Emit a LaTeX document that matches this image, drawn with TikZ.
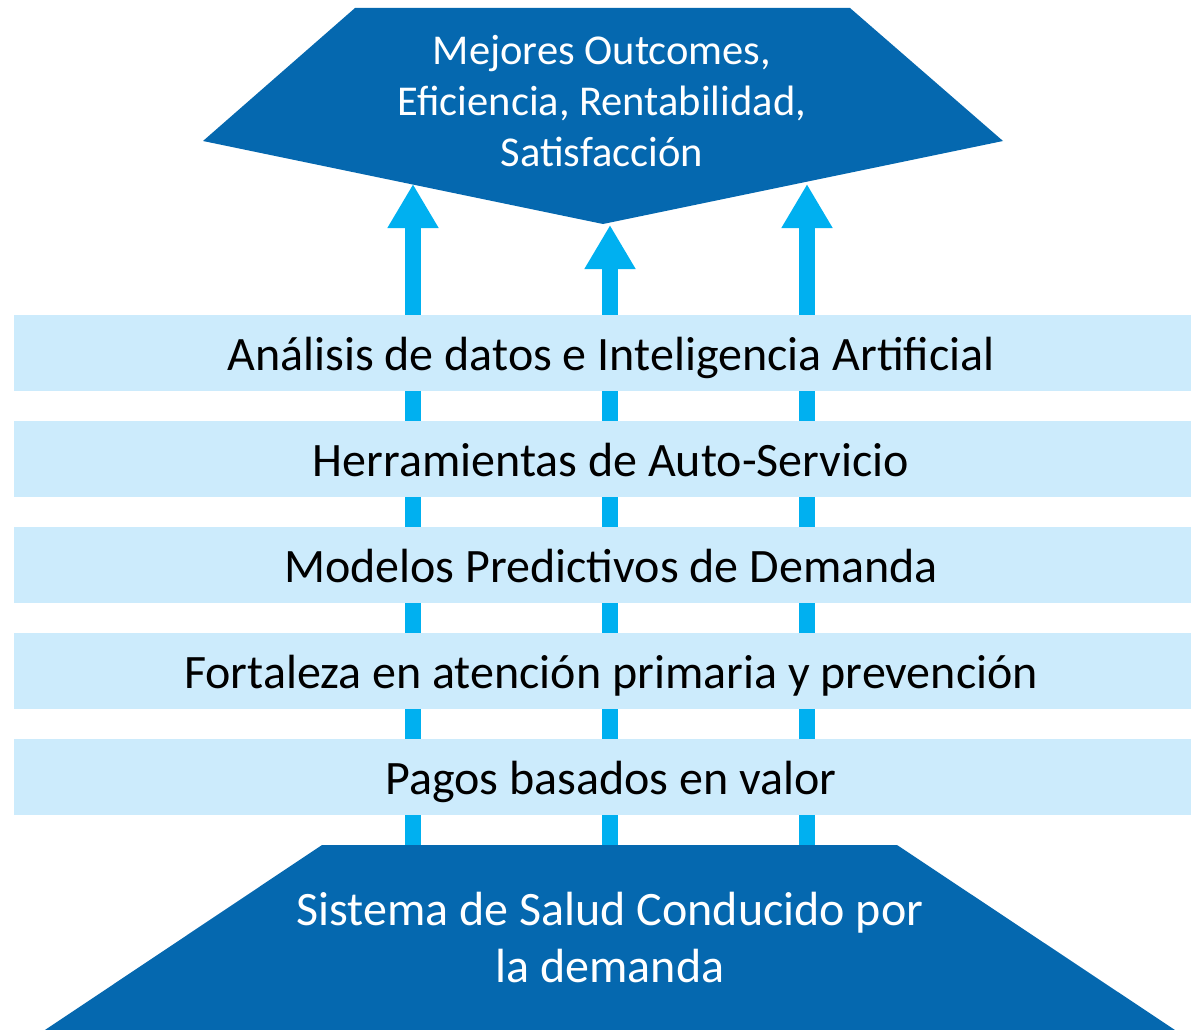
\documentclass[tikz,border=0pt]{standalone}
\usepackage{fontspec}
\setmainfont{Carlito}
\usetikzlibrary{arrows.meta}
\definecolor{navy}{RGB}{5,104,175}
\definecolor{sky}{RGB}{0,176,240}
\definecolor{pale}{RGB}{204,235,252}
\begin{document}
\begin{tikzpicture}[x=1pt,y=-1pt,
    layer/.style={fill=pale, minimum width=1194pt, minimum height=76pt, inner sep=0pt,
      text height=45pt, text depth=11pt, font=\fontsize{48}{58}\selectfont},
    flow/.style={sky, line width=16pt, -{Triangle[width=48pt,length=44pt]}},
    whitetext/.style={white, align=center}]
    \clip (0,0) rectangle (1191,1030);
    % top and bottom blocks
    \fill[navy] (355,8) -- (850,8) -- (1003,141) -- (603,224) -- (203,141) -- cycle;
    \node[whitetext, font=\fontsize{42.5}{51}\selectfont] (goal) at (602,101)
        {Mejores Outcomes,\\Eficiencia, Rentabilidad,\\Satisfacción};
    % arrows
    \coordinate (srcL) at (413,845);
    \coordinate (srcM) at (610,845);
    \coordinate (srcR) at (807,845);
    \coordinate (dstL) at (413,184);
    \coordinate (dstM) at (610,225);
    \coordinate (dstR) at (807,184);
    \draw[flow] (srcL) -- (dstL);
    \draw[flow] (srcM) -- (dstM);
    \draw[flow] (srcR) -- (dstR);
    % layers
    \node[layer] (bar1) at (611,353) {Análisis de datos e Inteligencia Artificial};
    \node[layer] (bar2) at (611,459) {Herramientas de Auto-Servicio};
    \node[layer] (bar3) at (611,565) {Modelos Predictivos de Demanda};
    \node[layer] (bar4) at (611,671) {Fortaleza en atención primaria y prevención};
    \node[layer] (bar5) at (611,777) {Pagos basados en valor};
    \fill[navy] (322,845) -- (897,845) -- (1190,1040) -- (30,1040) -- cycle;
    \node[whitetext, font=\fontsize{48}{57}\selectfont] (demand) at (610,938)
        {Sistema de Salud Conducido por\\la demanda};
\end{tikzpicture}
\end{document}
